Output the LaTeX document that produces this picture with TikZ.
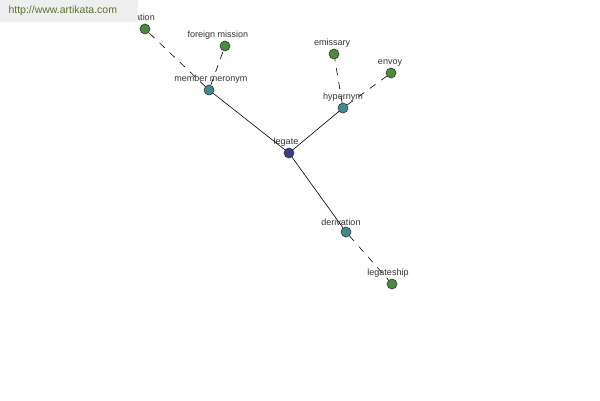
\documentclass[tikz,border=0pt]{standalone}
\usepackage{fontspec}
\setmainfont{Liberation Sans}
\usetikzlibrary{positioning}

\definecolor{azul}{HTML}{3B3B8C}
\definecolor{teal}{HTML}{3F8C8C}
\definecolor{verde}{HTML}{4E8A3E}
\definecolor{texto}{HTML}{333333}
\definecolor{banda}{HTML}{EEEEEE}
\definecolor{oliva}{HTML}{5A7230}

\tikzset{
  punto/.style={draw=black!80, circle, inner sep=0pt, minimum size=10pt, line width=0.6pt},
  etiqueta/.style={text=texto, font=\fontsize{9}{10}\selectfont, inner sep=1pt},
  arista/.style={black, line width=0.6pt},
  rota/.style={black, line width=0.6pt, dash pattern=on 7pt off 7pt}
}

\begin{document}
\begin{tikzpicture}[x=1pt, y=-1pt]
          \useasboundingbox[fill=white] (0,0) rectangle (600,400);
          % Nodos
          \node[punto, fill=azul, label={[etiqueta, xshift=-3pt]above:legate}] (legate) at (289,153) {};
          \node[punto, fill=teal, label={[etiqueta, xshift=2pt]above:member meronym}] (mero) at (209,90) {};
          \node[punto, fill=teal, label={[etiqueta]above:hypernym}] (hyper) at (343,108) {};
          \node[punto, fill=teal, label={[etiqueta, xshift=-5pt]above:derivation}] (deriv) at (346,232) {};
          \node[punto, fill=verde, label={[etiqueta, xshift=-6pt]above:legation}] (legation) at (145,29) {};
          \node[punto, fill=verde, label={[etiqueta, xshift=-7pt]above:foreign mission}] (mission) at (225,46) {};
          \node[punto, fill=verde, label={[etiqueta, xshift=-2pt]above:emissary}] (emissary) at (334,54) {};
          \node[punto, fill=verde, label={[etiqueta, xshift=-1pt]above:envoy}] (envoy) at (391,73) {};
          \node[punto, fill=verde, label={[etiqueta, xshift=-4pt]above:legateship}] (legateship) at (392,284) {};

          % Aristas
          \draw[arista] (legate) -- (mero);
          \draw[arista] (legate) -- (hyper);
          \draw[arista] (legate) -- (deriv);
          \draw[rota] (mero) -- (legation);
          \draw[rota] (mero) -- (mission);
          \draw[rota] (hyper) -- (emissary);
          \draw[rota] (hyper) -- (envoy);
          \draw[rota] (deriv) -- (legateship);

          % Banda
          \fill[banda] (0,0) rectangle (138,22);
          \node[text=oliva, font=\fontsize{10.5}{12}\selectfont, anchor=west] (web) at (5,11) {http://www.artikata.com};
        \end{tikzpicture}
\end{document}
